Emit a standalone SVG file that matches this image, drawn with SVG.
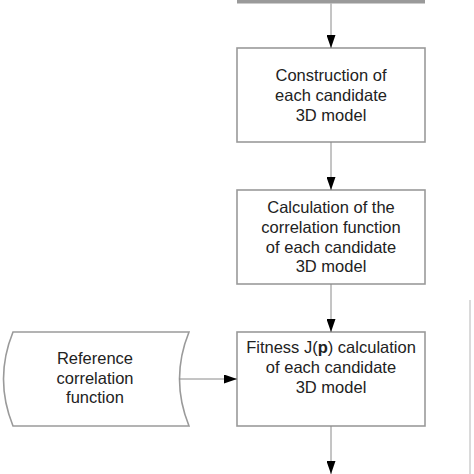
<svg xmlns="http://www.w3.org/2000/svg" width="474" height="474" viewBox="0 0 474 474">
<defs>
<marker id="arr" markerWidth="13" markerHeight="9" refX="13" refY="4.5" viewBox="0 0 13 9" markerUnits="userSpaceOnUse" orient="auto">
<path d="M0,0 L13,4.5 L0,9 Z" fill="#000"/>
</marker>
</defs>
<style>
.box{fill:#fff;stroke:#9a9a9a;stroke-width:1.6}
.conn{stroke:#8a8a8a;stroke-width:1;fill:none}
text{font-family:"Liberation Sans",Arial,sans-serif;font-size:16.5px;fill:#222;text-anchor:middle}
</style>
<rect width="474" height="474" fill="#fff"/>
<g id="prev-box">
<rect x="237" y="0" width="188" height="3.5" fill="#9a9a9a"/>
</g>
<g id="node-construction">
<rect class="box" x="237" y="48" width="188" height="94"/>
<text x="331" y="81">Construction of</text>
<text x="331" y="101">each candidate</text>
<text x="331" y="121">3D model</text>
</g>
<g id="node-calculation">
<rect class="box" x="237" y="190" width="188" height="94"/>
<text x="331" y="213">Calculation of the</text>
<text x="331" y="233">correlation function</text>
<text x="331" y="253">of each candidate</text>
<text x="331" y="272">3D model</text>
</g>
<g id="node-fitness">
<rect class="box" x="237" y="332" width="188" height="94"/>
<text x="331" y="353">Fitness J(<tspan font-weight="bold">p</tspan>) calculation</text>
<text x="331" y="373">of each candidate</text>
<text x="331" y="393">3D model</text>
</g>
<g id="node-reference">
<path class="box" d="M13,332 L189,332 Q170,379 189,426 L13,426 Q-6,379 13,332 Z"/>
<text x="95" y="364">Reference</text>
<text x="95" y="384">correlation</text>
<text x="95" y="403">function</text>
</g>
<g id="connectors">
<line class="conn" x1="331" y1="3.5" x2="331" y2="48" marker-end="url(#arr)"/>
<line class="conn" x1="331" y1="142" x2="331" y2="190" marker-end="url(#arr)"/>
<line class="conn" x1="331" y1="284" x2="331" y2="332" marker-end="url(#arr)"/>
<line class="conn" x1="331" y1="426" x2="331" y2="474" marker-end="url(#arr)"/>
<line class="conn" x1="179" y1="379" x2="237" y2="379" marker-end="url(#arr)"/>
</g>
<line x1="470" y1="300" x2="470" y2="474" stroke="#b5b5b5" stroke-width="1"/>
</svg>
